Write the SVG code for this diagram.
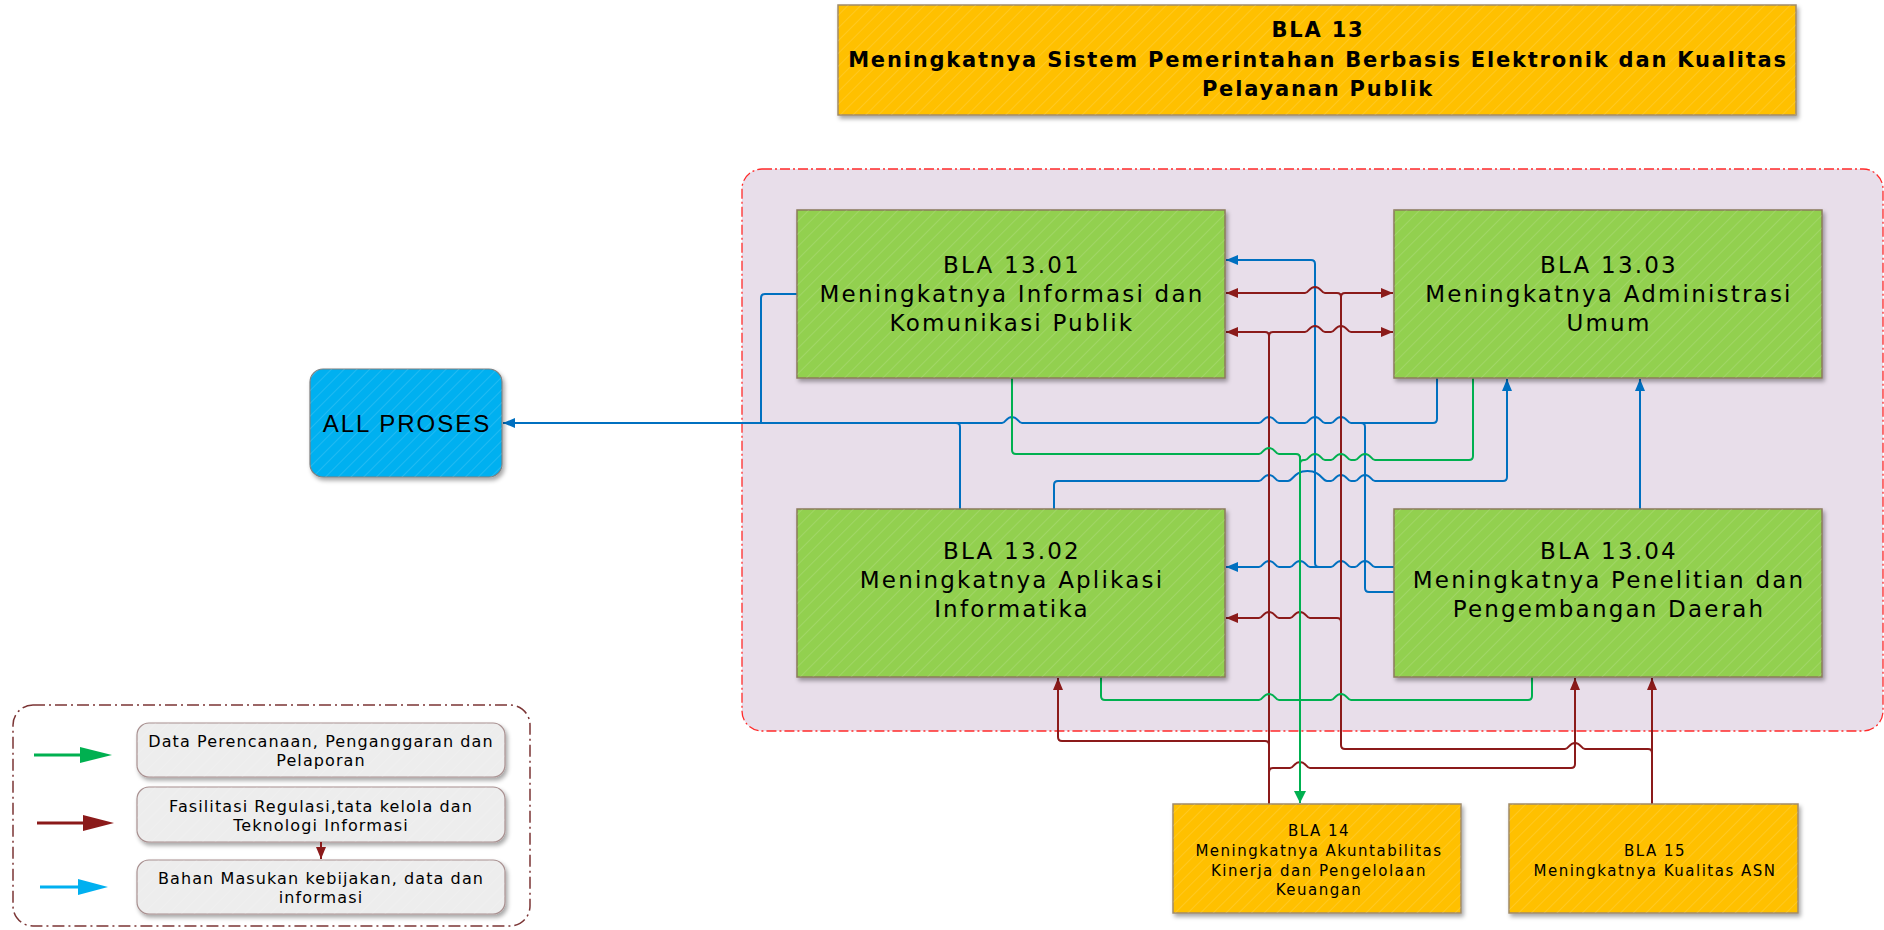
<svg xmlns="http://www.w3.org/2000/svg" width="1884" height="930" viewBox="0 0 1884 930">
<style>
.t{font-family:"DejaVu Sans","Liberation Sans",Arial,sans-serif;fill:#000;text-anchor:middle}
.title{font-size:21px;font-weight:bold;letter-spacing:1.8px}
.node{font-size:23px;letter-spacing:2.2px}
.small{font-size:15px;letter-spacing:1.5px}
.leg{font-size:16px;letter-spacing:1.1px}
.ap{font-family:"Liberation Sans",Arial,sans-serif;font-size:24px;letter-spacing:2px}
.conn{fill:none;stroke-width:2;stroke-linejoin:round}
.b{stroke:#0070C0}
.r{stroke:#8B1A1A}
.g{stroke:#00B050}
.green{fill:#92D050;stroke:#8B7B5B;stroke-width:1.5}
.yellow{fill:#FFC000;stroke:#A08A6A;stroke-width:1.5}
.grey{fill:#EDEDED;stroke:#A89090;stroke-width:1.2}
</style>
<defs>
<filter id="sh" x="-10%" y="-10%" width="130%" height="130%">
<feDropShadow dx="2" dy="3" stdDeviation="2" flood-color="#000" flood-opacity="0.35"/>
</filter>
<pattern id="hatch" width="9" height="9" patternUnits="userSpaceOnUse" patternTransform="rotate(45)">
<line x1="0" y1="0" x2="0" y2="9" stroke="#ffffff" stroke-opacity="0.13" stroke-width="2"/>
</pattern>
<marker id="ab" viewBox="0 0 12 10" refX="12" refY="5" markerWidth="12" markerHeight="10" markerUnits="userSpaceOnUse" orient="auto"><path d="M0,0 L12,5 L0,10 z" fill="#0070C0"/></marker>
<marker id="ar" viewBox="0 0 12 10" refX="12" refY="5" markerWidth="12" markerHeight="10" markerUnits="userSpaceOnUse" orient="auto"><path d="M0,0 L12,5 L0,10 z" fill="#8B1A1A"/></marker>
<marker id="ag" viewBox="0 0 12 12" refX="12" refY="6" markerWidth="12" markerHeight="12" markerUnits="userSpaceOnUse" orient="auto"><path d="M0,0 L12,6 L0,12 z" fill="#00B050"/></marker>
</defs>

<rect width="1884" height="930" fill="#ffffff"/>

<g id="container">
<rect x="742" y="169" width="1141" height="562" rx="20" fill="#E8DEEA" stroke="#FF2A2A" stroke-width="1.3" stroke-dasharray="10,3,2,3"/>
</g>

<g id="title">
<rect x="838" y="5" width="958" height="110" class="yellow" filter="url(#sh)"/>
<rect x="838" y="5" width="958" height="110" fill="url(#hatch)"/>
<text class="t title" x="1318" y="37">BLA 13</text>
<text class="t title" x="1318" y="67">Meningkatnya Sistem Pemerintahan Berbasis Elektronik dan Kualitas</text>
<text class="t title" x="1318" y="96">Pelayanan Publik</text>
</g>

<g id="connectors">
<!-- blue -->
<path class="conn b" marker-end="url(#ab)" d="M1437,378 V419 Q1437,423 1433,423 H1351 C1347,423 1347,417 1341,417 C1335,417 1335,423 1331,423 H1325 C1321,423 1321,417 1315,417 C1309,417 1309,423 1305,423 H1279 C1275,423 1275,417 1269,417 C1263,417 1263,423 1259,423 H1022 C1018,423 1018,417 1012,417 C1006,417 1006,423 1002,423 H503"/>
<path class="conn b" d="M797,294 H765 Q761,294 761,298 V423"/>
<path class="conn b" d="M960,509 V427 Q960,423 956,423"/>
<path class="conn b" d="M1394,592 H1369 Q1365,592 1365,588 V427 Q1365,423 1361,423"/>
<path class="conn b" marker-end="url(#ab)" d="M1054,509 V485 Q1054,481 1058,481 H1259 C1263,481 1263,475 1269,475 C1275,475 1275,481 1279,481 H1288 C1293,481 1294,471 1307.5,471 C1321,471 1322,481 1327,481 H1331 C1335,481 1335,475 1341,475 C1347,475 1347,481 1351,481 H1355 C1359,481 1359,475 1365,475 C1371,475 1371,481 1375,481 H1503 Q1507,481 1507,477 V379"/>
<path class="conn b" marker-end="url(#ab)" d="M1640,509 V379"/>
<path class="conn b" marker-end="url(#ab)" d="M1394,567 H1375 C1371,567 1371,561 1365,561 C1359,561 1359,567 1355,567 H1351 C1347,567 1347,561 1341,561 C1335,561 1335,567 1331,567 H1310 C1306,567 1306,561 1300,561 C1294,561 1294,567 1290,567 H1279 C1275,567 1275,561 1269,561 C1263,561 1263,567 1259,567 H1226"/>
<path class="conn b" marker-end="url(#ab)" d="M1319,567 Q1315,567 1315,563 V264 Q1315,260 1311,260 H1226"/>
<!-- red -->
<path class="conn r" marker-end="url(#ar)" d="M1269,804 V336 Q1269,332 1265,332 H1226"/>
<path class="conn r" marker-end="url(#ar)" d="M1269,336 Q1269,332 1273,332 H1305 C1309,332 1309,326 1315,326 C1321,326 1321,332 1325,332 H1331 C1335,332 1335,326 1341,326 C1347,326 1347,332 1351,332 H1393"/>
<path class="conn r" marker-end="url(#ar)" d="M1269,745 Q1269,741 1265,741 H1062 Q1058,741 1058,737 V678"/>
<path class="conn r" marker-end="url(#ar)" d="M1269,772 Q1269,768 1273,768 H1290 C1294,768 1294,762 1300,762 C1306,762 1306,768 1310,768 H1571 Q1575,768 1575,764 V678"/>
<path class="conn r" marker-end="url(#ar)" d="M1652,804 V678"/>
<path class="conn r" marker-end="url(#ar)" d="M1652,753 Q1652,749 1648,749 H1585 C1581,749 1581,743 1575,743 C1569,743 1569,749 1565,749 H1345 Q1341,749 1341,745 V297 Q1341,293 1337,293 H1325 C1321,293 1321,287 1315,287 C1309,287 1309,293 1305,293 H1226"/>
<path class="conn r" marker-end="url(#ar)" d="M1341,297 Q1341,293 1345,293 H1393"/>
<path class="conn r" marker-end="url(#ar)" d="M1341,622 Q1341,618 1337,618 H1310 C1306,618 1306,612 1300,612 C1294,612 1294,618 1290,618 H1279 C1275,618 1275,612 1269,612 C1263,612 1263,618 1259,618 H1226"/>
<!-- green -->
<path class="conn g" marker-end="url(#ag)" d="M1300,456 V803"/>
<path class="conn g" d="M1012,378 V450 Q1012,454 1016,454 H1259 C1263,454 1263,448 1269,448 C1275,448 1275,454 1279,454 H1296 Q1300,454 1300,458"/>
<path class="conn g" d="M1473,378 V456 Q1473,460 1469,460 H1375 C1371,460 1371,454 1365,454 C1359,454 1359,460 1355,460 H1351 C1347,460 1347,454 1341,454 C1335,454 1335,460 1331,460 H1325 C1321,460 1321,454 1315,454 C1309,454 1309,460 1305,460 H1304 Q1300,460 1300,464"/>
<path class="conn g" d="M1101,677 V696 Q1101,700 1105,700 H1259 C1263,700 1263,694 1269,694 C1275,694 1275,700 1279,700 H1300"/>
<path class="conn g" d="M1532,677 V696 Q1532,700 1528,700 H1351 C1347,700 1347,694 1341,694 C1335,694 1335,700 1331,700 H1300"/>
</g>

<g id="bla1301">
<rect x="797" y="210" width="428" height="168" class="green" filter="url(#sh)"/>
<rect x="797" y="210" width="428" height="168" fill="url(#hatch)"/>
<text class="t node" x="1012" y="273">BLA 13.01</text>
<text class="t node" x="1012" y="302">Meningkatnya Informasi dan</text>
<text class="t node" x="1012" y="331">Komunikasi Publik</text>
</g>

<g id="bla1303">
<rect x="1394" y="210" width="428" height="168" class="green" filter="url(#sh)"/>
<rect x="1394" y="210" width="428" height="168" fill="url(#hatch)"/>
<text class="t node" x="1609" y="273">BLA 13.03</text>
<text class="t node" x="1609" y="302">Meningkatnya Administrasi</text>
<text class="t node" x="1609" y="331">Umum</text>
</g>

<g id="bla1302">
<rect x="797" y="509" width="428" height="168" class="green" filter="url(#sh)"/>
<rect x="797" y="509" width="428" height="168" fill="url(#hatch)"/>
<text class="t node" x="1012" y="559">BLA 13.02</text>
<text class="t node" x="1012" y="588">Meningkatnya Aplikasi</text>
<text class="t node" x="1012" y="617">Informatika</text>
</g>

<g id="bla1304">
<rect x="1394" y="509" width="428" height="168" class="green" filter="url(#sh)"/>
<rect x="1394" y="509" width="428" height="168" fill="url(#hatch)"/>
<text class="t node" x="1609" y="559">BLA 13.04</text>
<text class="t node" x="1609" y="588">Meningkatnya Penelitian dan</text>
<text class="t node" x="1609" y="617">Pengembangan Daerah</text>
</g>

<g id="allproses">
<rect x="310" y="369" width="192" height="108" rx="13" fill="#00B0F0" stroke="#7F7F7F" stroke-width="1.2" filter="url(#sh)"/>
<rect x="310" y="369" width="192" height="108" rx="13" fill="url(#hatch)"/>
<text class="t ap" x="407" y="432">ALL PROSES</text>
</g>

<g id="bla14">
<rect x="1173" y="804" width="288" height="109" class="yellow" filter="url(#sh)"/>
<rect x="1173" y="804" width="288" height="109" fill="url(#hatch)"/>
<text class="t small" x="1319" y="836">BLA 14</text>
<text class="t small" x="1319" y="856">Meningkatnya Akuntabilitas</text>
<text class="t small" x="1319" y="876">Kinerja dan Pengelolaan</text>
<text class="t small" x="1319" y="895">Keuangan</text>
</g>

<g id="bla15">
<rect x="1509" y="804" width="289" height="109" class="yellow" filter="url(#sh)"/>
<rect x="1509" y="804" width="289" height="109" fill="url(#hatch)"/>
<text class="t small" x="1655" y="856">BLA 15</text>
<text class="t small" x="1655" y="876">Meningkatnya Kualitas ASN</text>
</g>

<g id="legend">
<rect x="13" y="705" width="517" height="221" rx="20" fill="none" stroke="#7B3535" stroke-width="1.5" stroke-dasharray="12,4,2,4"/>
<line x1="34" y1="755" x2="84" y2="755" stroke="#00B050" stroke-width="3"/>
<polygon points="80,747 112,755 80,763" fill="#00B050"/>
<line x1="37" y1="823" x2="87" y2="823" stroke="#8B1A1A" stroke-width="3"/>
<polygon points="83,815 114,823 83,831" fill="#8B1A1A"/>
<line x1="40" y1="887" x2="82" y2="887" stroke="#00B0F0" stroke-width="3"/>
<polygon points="78,879 108,887 78,895" fill="#00B0F0"/>
<g id="leg1">
<rect x="137" y="723" width="368" height="54" rx="12" class="grey" filter="url(#sh)"/>
<rect x="137" y="723" width="368" height="54" rx="12" fill="url(#hatch)"/>
<text class="t leg" x="321" y="747">Data Perencanaan, Penganggaran dan</text>
<text class="t leg" x="321" y="766">Pelaporan</text>
</g>
<g id="leg2">
<rect x="137" y="787" width="368" height="55" rx="12" class="grey" filter="url(#sh)"/>
<rect x="137" y="787" width="368" height="55" rx="12" fill="url(#hatch)"/>
<text class="t leg" x="321" y="812">Fasilitasi Regulasi,tata kelola dan</text>
<text class="t leg" x="321" y="831">Teknologi Informasi</text>
</g>
<g id="leg3">
<rect x="137" y="860" width="368" height="54" rx="12" class="grey" filter="url(#sh)"/>
<rect x="137" y="860" width="368" height="54" rx="12" fill="url(#hatch)"/>
<text class="t leg" x="321" y="884">Bahan Masukan kebijakan, data dan</text>
<text class="t leg" x="321" y="903">informasi</text>
</g>
<path class="conn r" marker-end="url(#ar)" d="M321,842 V859"/>
</g>
</svg>
